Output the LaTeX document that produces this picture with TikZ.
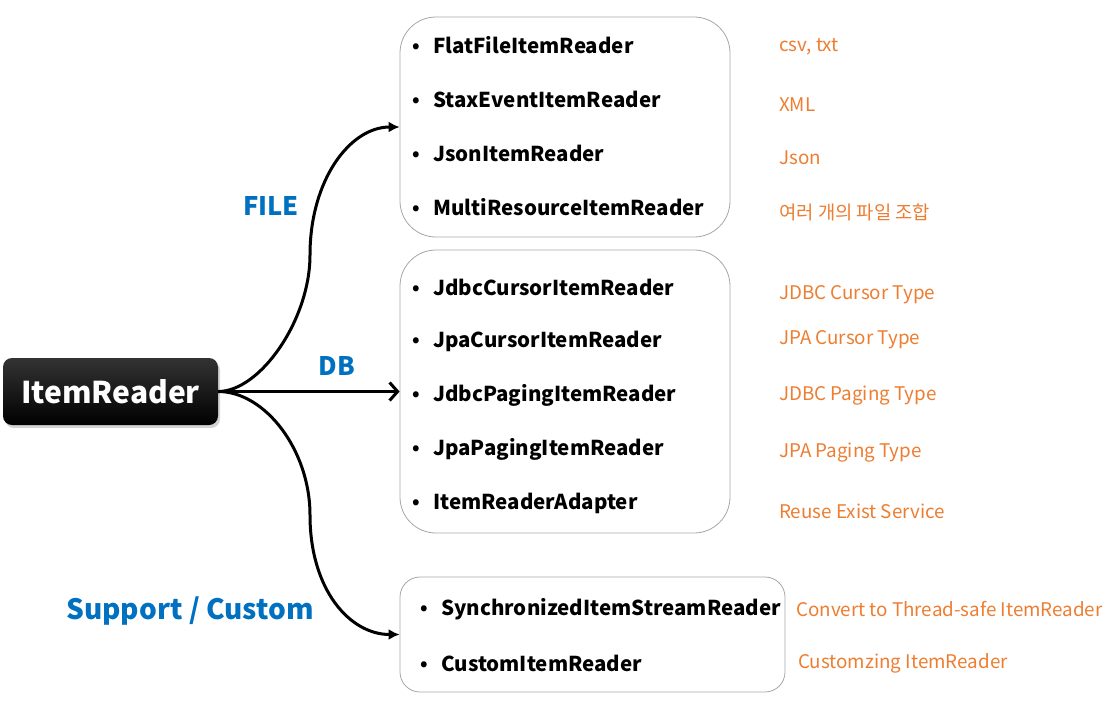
\documentclass[tikz,border=0pt]{standalone}
\usepackage{fontspec}
\setmainfont{Noto Sans CJK KR}
\usepackage{xcolor}
\usepackage{tikz}
\usetikzlibrary{arrows.meta, positioning, shadows, calc}
\definecolor{branchblue}{RGB}{0,112,192}
\definecolor{noteorange}{RGB}{237,125,49}
\newcommand{\dotmark}{\makebox[23pt][l]{\hspace{2pt}\raisebox{1pt}{\fontsize{19}{19}\selectfont\textbullet}}}

\begin{document}
\begin{tikzpicture}[x=1pt, y=-1pt,
    groupbox/.style={draw=black!35, line width=0.8pt, rounded corners=36pt, inner sep=0pt},
    reader/.style={anchor=west, inner sep=0pt, font=\fontsize{20.5}{24}\selectfont\bfseries},
    note/.style={anchor=west, inner sep=0pt, text=noteorange, font=\fontsize{18.8}{22}\selectfont},
    branch/.style={inner sep=0pt, text=branchblue, font=\fontsize{25.5}{28}\selectfont\bfseries},
    link/.style={line width=3pt}]
    \useasboundingbox (0,0) rectangle (1117,713);

    % Root node
    \node[minimum width=215pt, minimum height=67pt, rounded corners=9pt, top color=black!80, bottom color=black,
          drop shadow={opacity=0.35, shadow xshift=2pt, shadow yshift=-3pt},
          text=white, font=\fontsize{30}{34}\selectfont\bfseries] (root) at (110.5,391.5) {ItemReader};

    % Group boxes
    \node[groupbox, minimum width=330pt, minimum height=220pt] (filebox) at (565,127) {};
    \node[groupbox, minimum width=330pt, minimum height=283pt] (dbbox) at (565,391.5) {};
    \node[groupbox, rounded corners=20pt, minimum width=385pt, minimum height=115pt] (custombox) at (592.5,634.5) {};

    % FILE readers
    \node[reader] (flatfile) at (410,45) {\dotmark FlatFileItemReader};
    \node[reader] (staxevent) at (410,99) {\dotmark StaxEventItemReader};
    \node[reader] (json) at (410,153) {\dotmark JsonItemReader};
    \node[reader] (multires) at (410,207) {\dotmark MultiResourceItemReader};
    \node[note] (flatnote) at (779,47) {csv, txt};
    \node[note] (staxnote) at (779,105) {XML};
    \node[note] (jsonnote) at (779,158) {Json};
    \node[note] (multinote) at (779,212) {여러 개의 파일 조합};

    % DB readers
    \node[reader] (jdbccursor) at (410,287) {\dotmark JdbcCursorItemReader};
    \node[reader] (jpacursor) at (410,341) {\dotmark JpaCursorItemReader};
    \node[reader] (jdbcpaging) at (410,395) {\dotmark JdbcPagingItemReader};
    \node[reader] (jpapaging) at (410,449) {\dotmark JpaPagingItemReader};
    \node[reader] (adapter) at (410,503) {\dotmark ItemReaderAdapter};
    \node[note] (jdbccursornote) at (779,295) {JDBC Cursor Type};
    \node[note] (jpacursornote) at (779,340) {JPA Cursor Type};
    \node[note] (jdbcpagingnote) at (779,396) {JDBC Paging Type};
    \node[note] (jpapagingnote) at (779,453) {JPA Paging Type};
    \node[note] (adapternote) at (779,511) {Reuse Exist Service};

    % Support / Custom readers
    \node[reader] (synced) at (418,609) {\dotmark SynchronizedItemStreamReader};
    \node[reader] (customreader) at (418,663) {\dotmark CustomItemReader};
    \node[note] (syncednote) at (796,609) {Convert to Thread-safe ItemReader};
    \node[note] (customnote) at (798,663) {Customzing ItemReader};

    % Branch labels
    \node[branch] (filelabel) at (271,206) {FILE};
    \node[branch] (dblabel) at (337,366) {DB};
    \node[branch, font=\fontsize{28}{30}\selectfont\bfseries] (customlabel) at (190,611) {Support / Custom};

    % Connectors
    \draw[link, -{Latex[length=11pt, width=11pt]}] (root.east) .. controls (260,391.5) and (310,320) .. (310,255)
        .. controls (310,180) and (350,127) .. (filebox.west);
    \draw[link, -{Straight Barb[length=8pt, width=18pt]}] (root.east) -- (dbbox.west);
    \draw[link, -{Latex[length=11pt, width=11pt]}] (root.east) .. controls (265,391.5) and (310,450) .. (310,515)
        .. controls (310,590) and (350,634.5) .. (custombox.west);
\end{tikzpicture}
\end{document}
